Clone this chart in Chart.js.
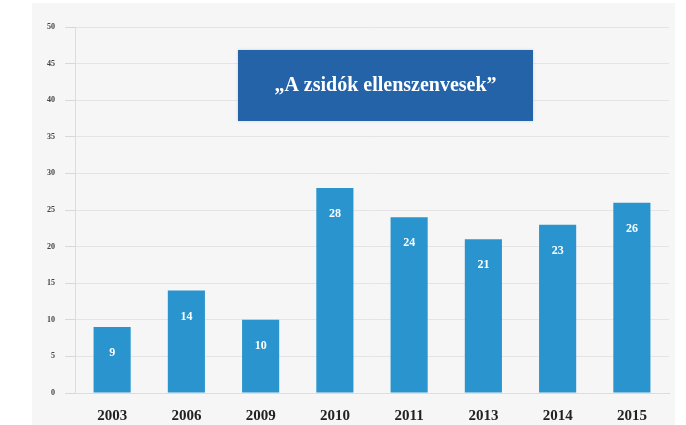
<!DOCTYPE html>
<html>
<head>
<meta charset="utf-8">
<script src="https://cdn.jsdelivr.net/npm/chart.js@4"></script>
<style>
  html, body { margin: 0; padding: 0; background: #ffffff; }
  #wrap { width: 686px; height: 425px; }
</style>
</head>
<body>
<div id="wrap"><canvas id="c" width="686" height="425"></canvas></div>
<script>
const categories = ["2003", "2006", "2009", "2010", "2011", "2013", "2014", "2015"];
const values = [9, 14, 10, 28, 24, 21, 23, 26];
const yTicks = [0, 5, 10, 15, 20, 25, 30, 35, 40, 45, 50];
const titleText = "\u201EA zsidók ellenszenvesek\u201D";

const backgroundPlugin = {
  id: 'bg',
  beforeDraw(chart) {
    const ctx = chart.ctx;
    ctx.save();
    ctx.fillStyle = '#ffffff';
    ctx.fillRect(0, 0, chart.width, chart.height);
    ctx.fillStyle = '#f6f6f6';
    ctx.fillRect(32, 3, 643, chart.height - 3);
    ctx.restore();
  }
};

const labelPlugin = {
  id: 'barLabels',
  afterDatasetsDraw(chart) {
    const ctx = chart.ctx;
    const meta = chart.getDatasetMeta(0);
    ctx.save();
    ctx.fillStyle = '#ffffff';
    ctx.font = 'bold 12px "Liberation Serif", serif';
    ctx.textAlign = 'center';
    ctx.textBaseline = 'middle';
    meta.data.forEach((bar, i) => {
      ctx.fillText(String(values[i]), bar.x, bar.y + 26);
    });
    ctx.restore();
  }
};

const titleBoxPlugin = {
  id: 'titleBox',
  afterDraw(chart) {
    const ctx = chart.ctx;
    const a = chart.chartArea;
    const x = a.left + 163, y = a.top + 23, w = 295, h = 71;
    ctx.save();
    ctx.shadowColor = 'rgba(0,0,0,0.15)';
    ctx.shadowBlur = 3;
    ctx.fillStyle = '#2563a8';
    ctx.fillRect(x, y, w, h);
    ctx.shadowColor = 'transparent';
    ctx.fillStyle = '#ffffff';
    ctx.font = 'bold 20px "Liberation Serif", serif';
    ctx.textAlign = 'center';
    ctx.textBaseline = 'middle';
    ctx.fillText(titleText, x + w / 2, y + h / 2);
    ctx.restore();
  }
};

new Chart(document.getElementById('c'), {
  type: 'bar',
  data: {
    labels: categories,
    datasets: [{
      data: values,
      backgroundColor: '#2a94ce',
      borderWidth: 0,
      barPercentage: 0.5,
      categoryPercentage: 1.0
    }]
  },
  options: {
    responsive: false,
    animation: false,
    devicePixelRatio: 1,
    layout: { padding: { left: 32, right: 17, top: 27, bottom: 0 } },
    plugins: {
      legend: { display: false },
      title: { display: false },
      tooltip: { enabled: false }
    },
    scales: {
      x: {
        grid: { display: false },
        border: { display: true, color: '#dddddd' },
        ticks: {
          color: '#222222',
          padding: 6,
          font: { family: '"Liberation Serif", serif', size: 15, weight: 'bold' }
        },
        afterFit(scale) { scale.height = 32; }
      },
      y: {
        min: 0,
        max: 50,
        afterBuildTicks(scale) { scale.ticks = yTicks.map(v => ({ value: v })); },
        grid: { color: '#e4e4e4', tickLength: 10, tickColor: '#d8d8d8' },
        border: { display: true, color: '#dcdcdc' },
        ticks: {
          color: '#444444',
          padding: 10,
          font: { family: '"Liberation Serif", serif', size: 8, weight: 'bold' }
        },
        afterFit(scale) { scale.width = 43; }
      }
    }
  },
  plugins: [backgroundPlugin, labelPlugin, titleBoxPlugin]
});
</script>
</body>
</html>
